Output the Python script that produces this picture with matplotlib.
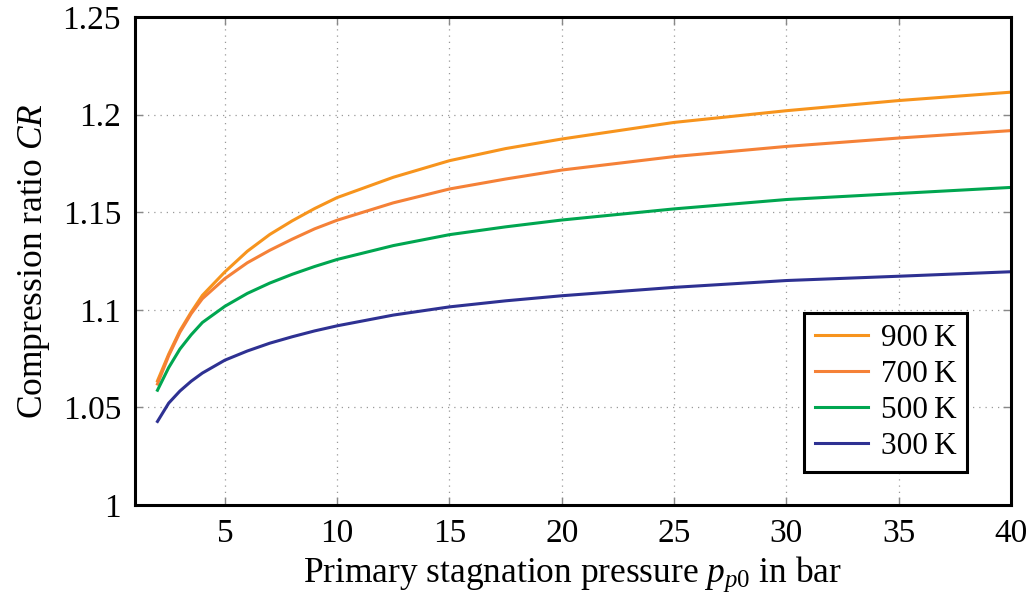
#required imports
import matplotlib
matplotlib.use("Agg")
import matplotlib.pyplot as plt

#serif text like the LaTeX original
plt.rcParams["font.family"] = ["Liberation Serif", "DejaVu Serif"]
plt.rcParams["mathtext.fontset"] = "custom"
plt.rcParams["mathtext.rm"] = "Liberation Serif"
plt.rcParams["mathtext.it"] = "Liberation Serif:italic"

#pressure points in bar
pressure = [2, 2.5, 3, 3.5, 4, 5, 6, 7, 8, 9, 10, 12.5, 15, 17.5, 20, 25, 30, 35, 40]

#compression ratio
cr_900 = [1.0636, 1.0773, 1.0893, 1.0988, 1.1074, 1.1194, 1.1300, 1.1386, 1.1456, 1.1519,
          1.1575, 1.1679, 1.1764, 1.1826, 1.1875, 1.1960, 1.2020, 1.2072, 1.2115]
cr_700 = [1.0620, 1.0765, 1.0885, 1.0980, 1.1057, 1.1160, 1.1241, 1.1305, 1.1362, 1.1415,
          1.1459, 1.1548, 1.1619, 1.1670, 1.1716, 1.1785, 1.1837, 1.1880, 1.1918]
cr_500 = [1.0588, 1.0704, 1.0799, 1.0872, 1.0935, 1.1018, 1.1084, 1.1137, 1.1182, 1.1222,
          1.1258, 1.1329, 1.1385, 1.1425, 1.1460, 1.1517, 1.1565, 1.1596, 1.1627]
cr_300 = [1.0428, 1.0522, 1.0584, 1.0634, 1.0676, 1.0742, 1.0789, 1.0829, 1.0862, 1.0892,
          1.0918, 1.0973, 1.1015, 1.1046, 1.1072, 1.1115, 1.1150, 1.1172, 1.1195]

labels = ["900\u2009K", "700\u2009K", "500\u2009K", "300\u2009K"]
colors = ["#F7941D", "#F58137", "#00A650", "#2E3192"]
x_ticks = [5, 10, 15, 20, 25, 30, 35, 40]
y_ticks = [1, 1.05, 1.1, 1.15, 1.2, 1.25]
y_tick_labels = ["1", "1.05", "1.1", "1.15", "1.2", "1.25"]

#define figure
fig = plt.figure(figsize=(10.33, 5.97), dpi=100)
ax = fig.add_axes([0.1307, 0.1541, 0.848, 0.8174])

#define plots
for series, label, color in zip([cr_900, cr_700, cr_500, cr_300], labels, colors):
  ax.plot(pressure, series, color=color, lw=2.2, label=label)

#axis ranges and ticks
ax.set_xlim(1, 40)
ax.set_ylim(1, 1.25)
ax.set_xticks(x_ticks)
ax.set_yticks(y_ticks)
ax.set_yticklabels(y_tick_labels)
ax.tick_params(direction="in", length=6, width=1, color="#888888",
               labelsize=24, top=True, right=True, pad=10)

#add grid
ax.grid(True, linestyle=(0, (1, 4)), color="#999999", lw=0.9)

for spine in ax.spines.values():
  spine.set_linewidth(2.2)
  spine.set_color("black")

#add axis label
ax.set_xlabel("Primary stagnation pressure $p_{p0}$ in bar", fontsize=25.5, labelpad=4)
ax.set_ylabel("Compression ratio $CR$", fontsize=25.5, labelpad=8)

#legend
leg = ax.legend(loc="lower right", bbox_to_anchor=(0.950, 0.068), fontsize=22.5,
                fancybox=False, framealpha=1, edgecolor="black",
                handlelength=1.7, handletextpad=0.4, borderpad=0.35,
                labelspacing=0.22, borderaxespad=0.0)
leg.get_frame().set_linewidth(2.2)

#export
plt.savefig("out.png", dpi=100)
